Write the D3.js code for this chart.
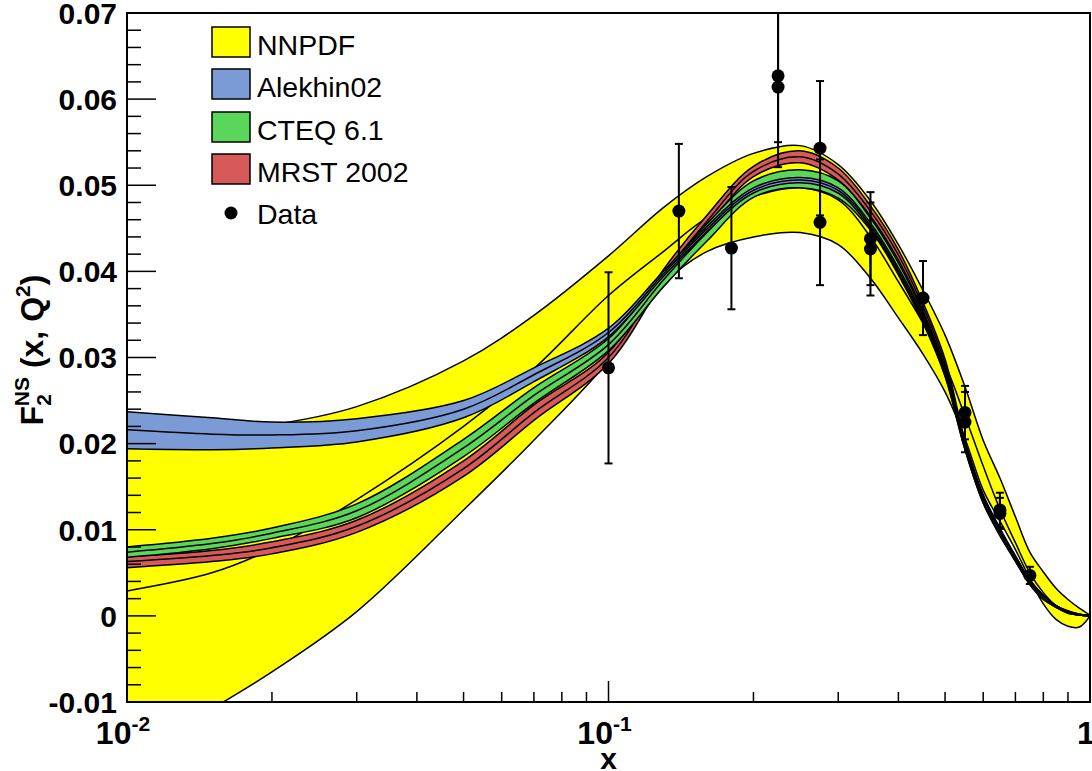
<!DOCTYPE html>
<html>
<head>
<meta charset="utf-8">
<script src="https://cdn.jsdelivr.net/npm/d3@7"></script>
<style>
  body { margin: 0; background: #fff; }
  svg { display: block; font-family: 'Liberation Sans', Arial, Helvetica, sans-serif; }
</style>
</head>
<body>
<svg id="chart" width="1092" height="771"></svg>
<script>
// x grid where the bands are sampled
const xs = [0.01, 0.015, 0.02, 0.03, 0.05, 0.07, 0.1, 0.13, 0.16, 0.2, 0.25, 0.3, 0.35, 0.4, 0.45, 0.5, 0.55, 0.6, 0.65, 0.7, 0.75, 0.8, 0.85, 0.9, 0.95, 1.0];

// NNPDF
const nnpdfUp = [0.0214, 0.0216, 0.0222, 0.0243, 0.0296, 0.0349, 0.0418, 0.0474, 0.0510, 0.0537, 0.0546, 0.0524, 0.0482, 0.0431, 0.0378, 0.0326, 0.0266, 0.0204, 0.0160, 0.0115, 0.0074, 0.0051, 0.0032, 0.0019, 0.0009, 0.0001];
const nnpdfMid = [0.0029, 0.0050, 0.0078, 0.0135, 0.0220, 0.0287, 0.0372, 0.0423, 0.0462, 0.0487, 0.0497, 0.0483, 0.0440, 0.0388, 0.0340, 0.0292, 0.0232, 0.0174, 0.0124, 0.0085, 0.0050, 0.0027, 0.0012, 0.0005, 0.0001, 0.0000];
const nnpdfLo = [-0.0167, -0.0108, -0.0065, 0.0005, 0.0123, 0.0204, 0.0296, 0.0385, 0.0423, 0.0440, 0.0445, 0.0431, 0.0392, 0.0346, 0.0304, 0.0260, 0.0206, 0.0146, 0.0110, 0.0077, 0.0043, 0.0014, -0.0004, -0.0012, -0.0013, 0.0000];

// Alekhin02
const alekUp = [0.0237, 0.0230, 0.0225, 0.0229, 0.0250, 0.0288, 0.0334, 0.0400, 0.0452, 0.0497, 0.0509, 0.0497, 0.0456, 0.0404, 0.0349, 0.0285, 0.0199, 0.0137, 0.0099, 0.0068, 0.0040, 0.0023, 0.0012, 0.0005, 0.0002, 0.0000];
const alekMid = [0.0216, 0.0211, 0.0210, 0.0215, 0.0240, 0.0280, 0.0329, 0.0397, 0.0449, 0.0494, 0.0506, 0.0494, 0.0453, 0.0401, 0.0346, 0.0282, 0.0196, 0.0134, 0.0096, 0.0066, 0.0038, 0.0021, 0.0011, 0.0004, 0.0001, 0.0000];
const alekLo = [0.0194, 0.0193, 0.0195, 0.0202, 0.0230, 0.0272, 0.0324, 0.0394, 0.0446, 0.0491, 0.0503, 0.0491, 0.0450, 0.0398, 0.0343, 0.0279, 0.0193, 0.0131, 0.0093, 0.0064, 0.0036, 0.0019, 0.0010, 0.0003, 0.0001, 0.0000];

// CTEQ 6.1
const cteqUp = [0.0080, 0.0090, 0.0102, 0.0130, 0.0205, 0.0265, 0.0322, 0.0398, 0.0455, 0.0505, 0.0518, 0.0505, 0.0462, 0.0410, 0.0352, 0.0288, 0.0201, 0.0139, 0.0100, 0.0069, 0.0041, 0.0024, 0.0012, 0.0005, 0.0002, 0.0000];
const cteqMid = [0.0074, 0.0084, 0.0096, 0.0122, 0.0195, 0.0256, 0.0315, 0.0390, 0.0445, 0.0495, 0.0507, 0.0495, 0.0455, 0.0403, 0.0346, 0.0283, 0.0197, 0.0135, 0.0097, 0.0066, 0.0039, 0.0022, 0.0011, 0.0004, 0.0001, 0.0000];
const cteqLo = [0.0068, 0.0078, 0.0090, 0.0114, 0.0185, 0.0247, 0.0308, 0.0382, 0.0435, 0.0486, 0.0497, 0.0485, 0.0448, 0.0396, 0.0340, 0.0278, 0.0193, 0.0131, 0.0094, 0.0063, 0.0037, 0.0020, 0.0010, 0.0003, 0.0001, 0.0000];

// MRST 2002
const mrstUp = [0.0069, 0.0076, 0.0086, 0.0111, 0.0180, 0.0245, 0.0306, 0.0402, 0.0465, 0.0522, 0.0540, 0.0520, 0.0476, 0.0425, 0.0364, 0.0298, 0.0204, 0.0141, 0.0102, 0.0070, 0.0042, 0.0024, 0.0012, 0.0006, 0.0002, 0.0000];
const mrstMid = [0.0063, 0.0070, 0.0079, 0.0104, 0.0171, 0.0236, 0.0300, 0.0395, 0.0458, 0.0516, 0.0533, 0.0513, 0.0470, 0.0419, 0.0359, 0.0293, 0.0200, 0.0138, 0.0099, 0.0068, 0.0040, 0.0022, 0.0011, 0.0005, 0.0002, 0.0000];
const mrstLo = [0.0056, 0.0063, 0.0072, 0.0097, 0.0162, 0.0227, 0.0293, 0.0388, 0.0451, 0.0510, 0.0526, 0.0506, 0.0464, 0.0413, 0.0354, 0.0288, 0.0196, 0.0135, 0.0096, 0.0066, 0.0038, 0.0020, 0.0010, 0.0004, 0.0001, 0.0000];

// measured points
const dataX = [0.1, 0.14, 0.18, 0.225, 0.225, 0.275, 0.275, 0.35, 0.35, 0.45, 0.55, 0.55, 0.65, 0.65, 0.75];
const dataY = [0.0288, 0.0470, 0.0427, 0.0627, 0.0614, 0.0543, 0.0457, 0.0438, 0.0426, 0.0369, 0.0236, 0.0225, 0.0123, 0.0119, 0.0047];
const dataErr = [0.0111, 0.0078, 0.0071, 0.0077, 0.0093, 0.0078, 0.0073, 0.0054, 0.0054, 0.0043, 0.0031, 0.0035, 0.0020, 0.0018, 0.0010];

const yTicks = [-0.01, 0, 0.01, 0.02, 0.03, 0.04, 0.05, 0.06, 0.07];
const xTicks = [0.01, 0.1, 1];
const xTickLabels = [['10', '-2'], ['10', '-1'], ['1', '']];
const legendNames = ['NNPDF', 'Alekhin02', 'CTEQ 6.1', 'MRST 2002'];
const legendColors = ['#ffff00', '#7b9bd6', '#5ad65a', '#d65a5a'];

const PLOT = { left: 127, right: 1090, top: 13, bottom: 702 };

const svg = d3.select('#chart');

const x = d3.scaleLog().domain([0.01, 1]).range([PLOT.left, PLOT.right]);
const y = d3.scaleLinear().domain([-0.01, 0.07]).range([PLOT.bottom, PLOT.top]);

svg.append('defs')
  .append('clipPath')
  .attr('id', 'plotclip')
  .append('rect')
  .attr('x', PLOT.left)
  .attr('y', PLOT.top)
  .attr('width', PLOT.right - PLOT.left)
  .attr('height', PLOT.bottom - PLOT.top);

const plot = svg.append('g').attr('clip-path', 'url(#plotclip)');

const curve = d3.curveCatmullRom.alpha(0.5);

// one band = filled area + upper, central and lower lines
function drawBand(lo, mid, up, color) {
  const rows = xs.map((v, i) => ({ x: v, lo: lo[i], mid: mid[i], up: up[i] }));
  const area = d3.area()
    .x((d) => x(d.x))
    .y0((d) => y(d.lo))
    .y1((d) => y(d.up))
    .curve(curve);
  const g = plot.append('g');
  g.append('path').datum(rows).attr('d', area).attr('fill', color).attr('stroke', 'none');
  ['up', 'mid', 'lo'].forEach((k) => {
    const line = d3.line().x((d) => x(d.x)).y((d) => y(d[k])).curve(curve);
    g.append('path')
      .datum(rows)
      .attr('d', line)
      .attr('fill', 'none')
      .attr('stroke', '#000')
      .attr('stroke-width', 1.5);
  });
}

drawBand(nnpdfLo, nnpdfMid, nnpdfUp, legendColors[0]);
drawBand(mrstLo, mrstMid, mrstUp, legendColors[3]);
drawBand(cteqLo, cteqMid, cteqUp, legendColors[2]);
drawBand(alekLo, alekMid, alekUp, legendColors[1]);

// data with error bars
const pts = dataX.map((v, i) => ({ x: v, y: dataY[i], e: dataErr[i] }));
const pg = plot.append('g');
pg.selectAll('.err')
  .data(pts)
  .join('line')
  .attr('x1', (d) => x(d.x))
  .attr('x2', (d) => x(d.x))
  .attr('y1', (d) => y(d.y + d.e))
  .attr('y2', (d) => y(d.y - d.e))
  .attr('stroke', '#000')
  .attr('stroke-width', 2);
pg.selectAll('.capTop')
  .data(pts)
  .join('line')
  .attr('x1', (d) => x(d.x) - 4)
  .attr('x2', (d) => x(d.x) + 4)
  .attr('y1', (d) => y(d.y + d.e))
  .attr('y2', (d) => y(d.y + d.e))
  .attr('stroke', '#000')
  .attr('stroke-width', 2);
pg.selectAll('.capBot')
  .data(pts)
  .join('line')
  .attr('x1', (d) => x(d.x) - 4)
  .attr('x2', (d) => x(d.x) + 4)
  .attr('y1', (d) => y(d.y - d.e))
  .attr('y2', (d) => y(d.y - d.e))
  .attr('stroke', '#000')
  .attr('stroke-width', 2);
pg.selectAll('circle')
  .data(pts)
  .join('circle')
  .attr('cx', (d) => x(d.x))
  .attr('cy', (d) => y(d.y))
  .attr('r', 6.5)
  .attr('fill', '#000');

// frame
svg.append('rect')
  .attr('x', PLOT.left)
  .attr('y', PLOT.top)
  .attr('width', PLOT.right - PLOT.left)
  .attr('height', PLOT.bottom - PLOT.top)
  .attr('fill', 'none')
  .attr('stroke', '#000')
  .attr('stroke-width', 2);

// y axis ticks (inside) and labels
const yMinor = d3.range(-0.01, 0.0701, 0.002);
svg.append('g')
  .selectAll('line')
  .data(yMinor)
  .join('line')
  .attr('x1', PLOT.left)
  .attr('x2', (d, i) => PLOT.left + (i % 5 === 0 ? 29 : 14))
  .attr('y1', (d) => y(d))
  .attr('y2', (d) => y(d))
  .attr('stroke', '#000')
  .attr('stroke-width', 1.5);

svg.append('g')
  .selectAll('text')
  .data(yTicks)
  .join('text')
  .attr('x', 117)
  .attr('y', (d) => y(d))
  .attr('dy', '0.36em')
  .attr('text-anchor', 'end')
  .style('font', 'bold 30px "Liberation Sans", Arial, sans-serif')
  .text((d) => (Math.abs(d) < 1e-9 ? '0' : d3.format('.2f')(d).replace('−', '-')));

// x axis ticks (inside) and labels
const xMinor = [];
[0.01, 0.1].forEach((dec) => {
  for (let k = 1; k <= 9; k++) xMinor.push({ v: dec * k, major: k === 1 });
});
xMinor.push({ v: 1, major: true });
svg.append('g')
  .selectAll('line')
  .data(xMinor)
  .join('line')
  .attr('x1', (d) => x(d.v))
  .attr('x2', (d) => x(d.v))
  .attr('y1', PLOT.bottom)
  .attr('y2', (d) => PLOT.bottom - (d.major ? 21 : 10))
  .attr('stroke', '#000')
  .attr('stroke-width', 1.5);

const xl = svg.append('g')
  .selectAll('text')
  .data(xTicks)
  .join('text')
  .attr('x', (d) => x(d) - 4)
  .attr('y', 744)
  .attr('text-anchor', 'middle')
  .style('font', 'bold 32px "Liberation Sans", Arial, sans-serif');
xl.append('tspan').text((d, i) => xTickLabels[i][0]);
xl.append('tspan')
  .attr('dy', -13)
  .style('font-size', '21px')
  .text((d, i) => xTickLabels[i][1]);

// axis titles
svg.append('text')
  .attr('x', x(0.1))
  .attr('y', 769)
  .attr('text-anchor', 'middle')
  .style('font', 'bold 30px "Liberation Sans", Arial, sans-serif')
  .text('x');

const yt = svg.append('text')
  .attr('transform', 'translate(43, 350) rotate(-90)')
  .attr('text-anchor', 'middle')
  .style('font', 'bold 32px "Liberation Sans", Arial, sans-serif');
yt.append('tspan').text('F');
yt.append('tspan').attr('dy', 8).style('font-size', '21px').text('2');
yt.append('tspan').attr('dx', -12).attr('dy', -22).style('font-size', '21px').text('NS');
yt.append('tspan').attr('dy', 14).text(' (x, Q');
yt.append('tspan').attr('dy', -13).style('font-size', '21px').text('2');
yt.append('tspan').attr('dy', 13).text(')');

// legend
const leg = svg.append('g');
legendNames.forEach((name, i) => {
  const top = [27, 69, 112, 154][i];
  leg.append('rect')
    .attr('x', 212)
    .attr('y', top)
    .attr('width', 38)
    .attr('height', 30)
    .attr('fill', legendColors[i])
    .attr('stroke', '#000')
    .attr('stroke-width', 1.5);
  leg.append('text')
    .attr('x', 257)
    .attr('y', top + 28)
    .style('font', '28.5px "Liberation Sans", Arial, sans-serif')
    .text(name);
});
leg.append('circle').attr('cx', 231).attr('cy', 213).attr('r', 6.5).attr('fill', '#000');
leg.append('text')
  .attr('x', 257)
  .attr('y', 224)
  .style('font', '28.5px "Liberation Sans", Arial, sans-serif')
  .text('Data');
</script>
</body>
</html>
